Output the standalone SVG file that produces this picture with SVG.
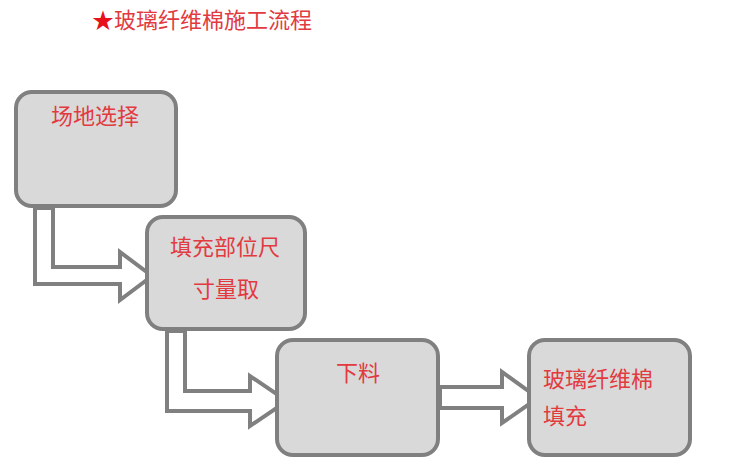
<svg xmlns="http://www.w3.org/2000/svg" width="749" height="468" viewBox="0 0 749 468">
<style>
.box{fill:#d9d9d9;stroke:#808080;stroke-width:4}
.arr{fill:#ffffff;stroke:#808080;stroke-width:4;stroke-linejoin:miter}
.t{fill:#e23a3f;font-family:"Noto Sans CJK SC","Noto Sans",sans-serif;font-size:22px}
</style>
<rect width="749" height="468" fill="#ffffff"/>
<text x="92" y="28" class="t"><tspan fill="#e8101a">★</tspan>玻璃纤维棉施工流程</text>
<g id="connectors">
<polygon class="arr" points="35,208 35,284 120,284 120,300 152,276 120,252 120,267 53,267 53,208"/>
<polygon class="arr" points="167,331 167,411 250,411 250,426 287,401 250,376 250,391 185,391 185,331"/>
<polygon class="arr" points="440,387 502,387 502,372 538,398 502,423 502,408 440,408"/>
</g>
<g id="n1">
<rect class="box" x="16" y="92" width="160" height="114" rx="16"/>
<text class="t" x="51" y="124">场地选择</text>
</g>
<g id="n2">
<rect class="box" x="147" y="217" width="158" height="112" rx="16"/>
<text class="t" x="170" y="255">填充部位尺</text>
<text class="t" x="193" y="297">寸量取</text>
</g>
<g id="n3">
<rect class="box" x="277" y="340" width="161" height="115" rx="16"/>
<text class="t" x="336" y="381">下料</text>
</g>
<g id="n4">
<rect class="box" x="529" y="340" width="161" height="115" rx="16"/>
<text class="t" x="543" y="387">玻璃纤维棉</text>
<text class="t" x="543" y="424">填充</text>
</g>
</svg>
